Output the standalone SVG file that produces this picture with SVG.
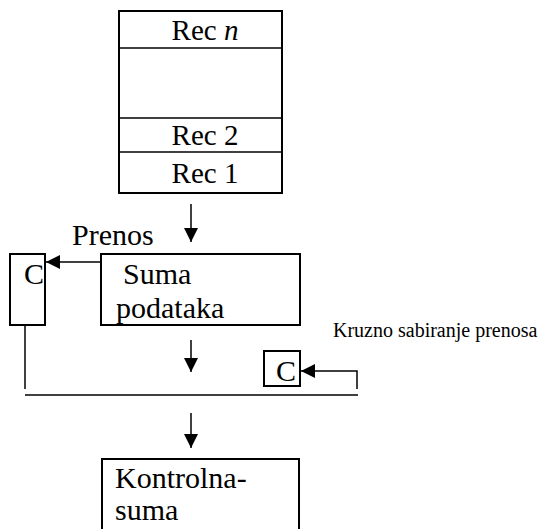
<svg xmlns="http://www.w3.org/2000/svg" width="543" height="529" viewBox="0 0 543 529">
  <style>
    .box { fill: #fff; stroke: #000; stroke-width: 2; }
    .ln { fill: none; stroke: #000; stroke-width: 1.5; }
    .t { font-family: "Liberation Serif", Tinos, "Times New Roman", "Nimbus Roman", "DejaVu Serif", serif; font-size: 30px; fill: #000; }
    .r { font-size: 29px; }
    .s { font-family: "Liberation Serif", Tinos, "Times New Roman", "Nimbus Roman", "DejaVu Serif", serif; font-size: 20px; fill: #000; }
  </style>
  <defs>
    <marker id="ahb" viewBox="0 0 10 10" refX="10" refY="5" markerWidth="15" markerHeight="14" markerUnits="userSpaceOnUse" orient="auto">
      <path d="M0,0 L10,5 L0,10 z" fill="#000"/>
    </marker>
  </defs>

  <g id="records">
    <rect class="box" x="119" y="11" width="163" height="182"/>
    <line class="ln" x1="119" y1="48" x2="282" y2="48" stroke-width="2"/>
    <line class="ln" x1="119" y1="118" x2="282" y2="118"/>
    <line class="ln" x1="119" y1="152" x2="282" y2="152"/>
    <text class="t r" x="205" y="40" text-anchor="middle">Rec <tspan font-style="italic">n</tspan></text>
    <text class="t r" x="205" y="145" text-anchor="middle">Rec 2</text>
    <text class="t r" x="205" y="183" text-anchor="middle">Rec 1</text>
  </g>

  <g id="carry">
    <rect class="box" x="10" y="254" width="35" height="71"/>
    <text class="t" x="24" y="284">C</text>
  </g>

  <g id="sum">
    <rect class="box" x="101" y="254" width="199" height="71"/>
    <text class="t" x="123" y="284">Suma</text>
    <text class="t" x="116" y="318">podataka</text>
  </g>

  <g id="carry-wrap">
    <rect class="box" x="264" y="351" width="36" height="35"/>
    <text class="t" x="276" y="381">C</text>
  </g>

  <g id="checksum">
    <rect class="box" x="102" y="459" width="197" height="80"/>
    <text class="t" x="115" y="488">Kontrolna-</text>
    <text class="t" x="115" y="520">suma</text>
  </g>

  <g id="labels">
    <text class="t" x="72" y="245">Prenos</text>
    <text class="s" x="333" y="337">Kruzno sabiranje prenosa</text>
  </g>

  <g id="connectors">
    <line class="ln" x1="191" y1="204" x2="191" y2="242" marker-end="url(#ahb)"/>
    <line class="ln" x1="101" y1="262" x2="46" y2="262" marker-end="url(#ahb)"/>
    <line class="ln" x1="191" y1="340" x2="191" y2="372" marker-end="url(#ahb)"/>
    <line class="ln" x1="25" y1="325" x2="25" y2="389"/>
    <line class="ln" x1="25" y1="395" x2="358" y2="395"/>
    <polyline class="ln" points="357,389 357,371 301,371" marker-end="url(#ahb)"/>
    <line class="ln" x1="191" y1="413" x2="191" y2="448" marker-end="url(#ahb)"/>
  </g>
</svg>
